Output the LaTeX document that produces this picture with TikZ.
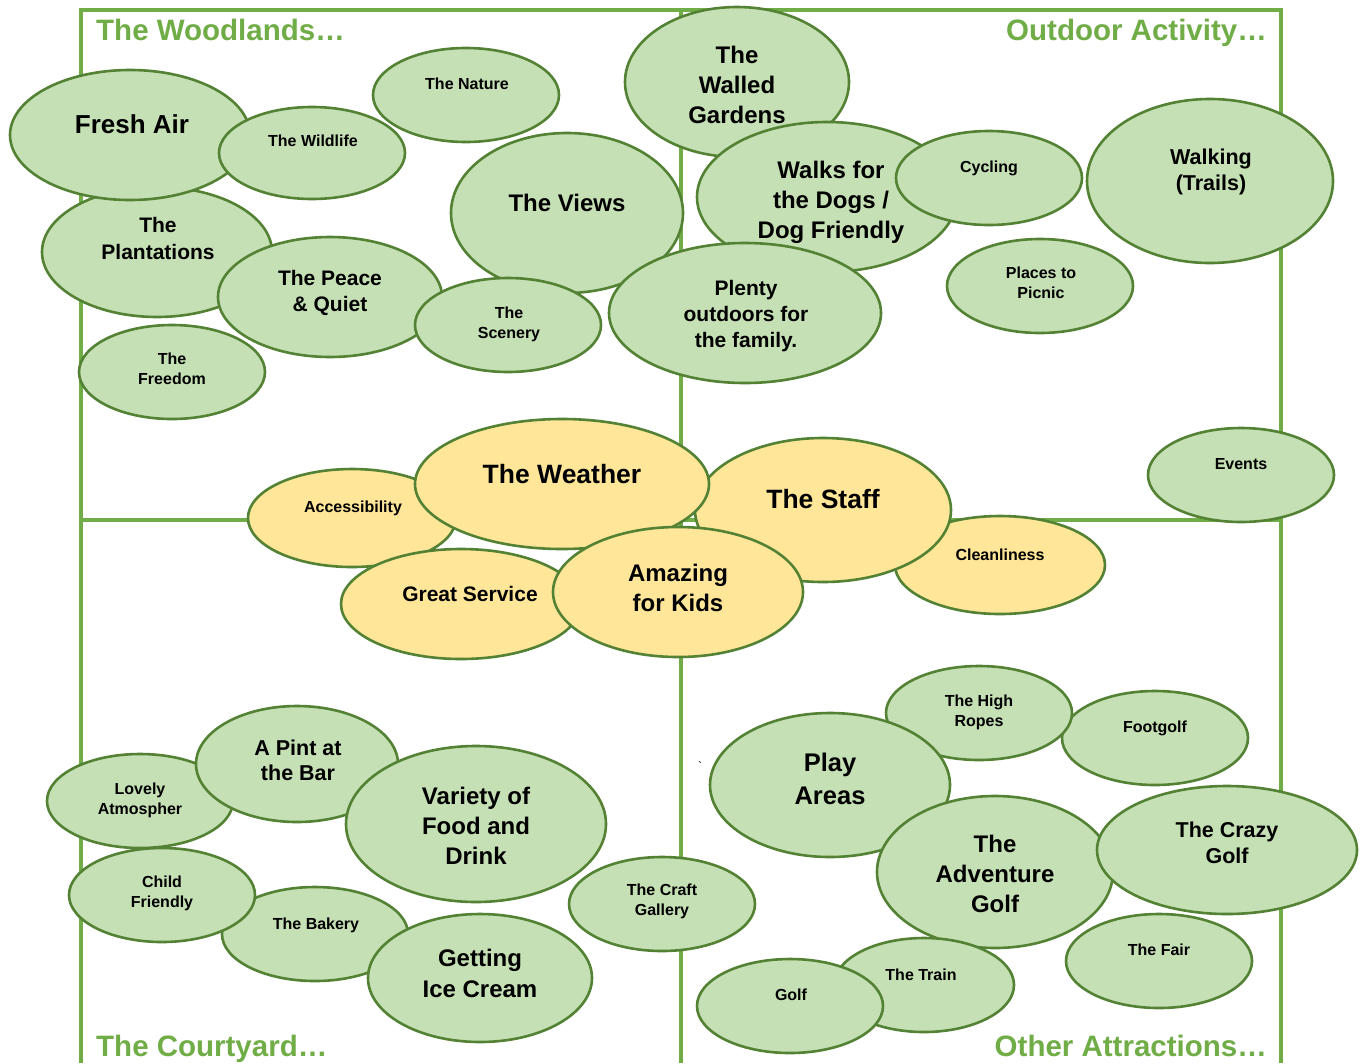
\documentclass[tikz,border=0pt]{standalone}
\usepackage{fontspec}
\setmainfont{Liberation Sans}
\usetikzlibrary{shapes.geometric}
\definecolor{gfill}{HTML}{C5E0B4}
\definecolor{yfill}{HTML}{FFE699}
\definecolor{edgec}{HTML}{548235}
\definecolor{framec}{HTML}{70AD47}
\newcommand\fs[2]{\fontsize{#1}{#2}\selectfont}
\tikzset{
  bub/.style={ellipse, draw=edgec, line width=2.6pt, inner sep=0pt},
  gb/.style={bub, fill=gfill},
  yb/.style={bub, fill=yfill},
  lbl/.style={align=center, inner sep=0pt, text=black},
  frameline/.style={draw=framec, line width=3.6pt},
  ttl/.style={inner sep=0pt, text=framec, font=\bfseries\fs{29.5}{32}}
}
% #1 style, #2 name, #3 cx,cy, #4 rx, #5 ry, #6 tx,ty, #7 font, #8 text
\newcommand\bb[8]{%
  \node[#1, minimum width=2*#4pt, minimum height=2*#5pt] (#2) at (#3) {};
  \node[lbl, font=\bfseries#7] (#2-t) at (#6) {#8};
}
\begin{document}
\begin{tikzpicture}[x=1pt,y=-1pt]
\useasboundingbox[fill=white] (0,0) rectangle (1364,1063);
% frame
\coordinate (tl) at (81,10);
\coordinate (tr) at (1281,10);
\coordinate (bl) at (81,1063);
\coordinate (br) at (1281,1063);
\coordinate (tm) at (681,10);
\coordinate (bm) at (681,1063);
\coordinate (ml) at (81,520);
\coordinate (mr) at (1281,520);
\draw[frameline] (bl) -- (tl) -- (tr) -- (br);
\draw[frameline] (tm) -- (bm);
\draw[frameline] (ml) -- (mr);
% titles
\node[ttl, anchor=base west] (t1) at (96,40) {The Woodlands…};
\node[ttl, anchor=base east] (t2) at (1267,40) {Outdoor Activity…};
\node[ttl, anchor=base west] (t3) at (96,1056) {The Courtyard…};
\node[ttl, anchor=base east] (t4) at (1267,1056) {Other Attractions…};
% Woodlands
\bb{gb}{plant}{157,252}{115}{65}{158,238.5}{\fs{21}{27}}{The\\Plantations}
\bb{gb}{fresh}{130,135}{120}{65}{132,124}{\fs{26}{30}}{Fresh Air}
\bb{gb}{wild}{312,153}{93}{46}{313,141}{\fs{16}{20}}{The Wildlife}
\bb{gb}{nature}{466,95}{93}{47}{467,83.5}{\fs{16}{20}}{The Nature}
\bb{gb}{views}{567,213}{116}{80}{567,203}{\fs{24}{30}}{The Views}
\bb{gb}{peace}{330,297}{112}{60}{330,293}{\fs{21}{26}}{The Peace\\\& Quiet}
\bb{gb}{scen}{508,325}{93}{47}{509,324}{\fs{16}{20}}{The\\Scenery}
\bb{gb}{free}{172,372}{93}{47}{172,369}{\fs{16}{20}}{The\\Freedom}
% Outdoor activity
\bb{gb}{walled}{737,82}{112}{75}{737,85}{\fs{24}{30}}{The\\Walled\\Gardens}
\bb{gb}{walks}{827,197}{130}{75}{831,202}{\fs{24}{30}}{Walks for\\the Dogs /\\Dog Friendly}
\bb{gb}{cyc}{989,178}{93}{47}{989,168}{\fs{16}{20}}{Cycling}
\bb{gb}{walking}{1210,181}{123}{82}{1211,172}{\fs{21.5}{26}}{Walking\\(Trails)}
\bb{gb}{picnic}{1040,286}{93}{47}{1041,283}{\fs{16}{20}}{Places to\\Picnic}
\bb{gb}{plenty}{745,313}{136}{70}{746,316}{\fs{21}{26}}{Plenty\\outdoors for\\the family.}
\bb{gb}{events}{1241,475}{93}{47}{1241,464}{\fs{16}{20}}{Events}
% centre
\bb{yb}{access}{352,518}{104}{49}{353,508}{\fs{16}{20}}{Accessibility}
\bb{yb}{clean}{1000,565}{105}{49}{1000,555}{\fs{16}{20}}{Cleanliness}
\bb{yb}{staff}{823,510}{128}{72}{823,499}{\fs{26.5}{30}}{The Staff}
\bb{yb}{weather}{562,484}{147}{65}{562,474}{\fs{26.5}{30}}{The Weather}
\bb{yb}{great}{461,604}{120}{55}{470,594}{\fs{21}{26}}{Great Service}
\bb{yb}{kids}{678,592}{125}{65}{678,588}{\fs{24}{30}}{Amazing\\for Kids}
% Courtyard
\bb{gb}{lovely}{140,801}{93}{47}{140,800}{\fs{16}{20}}{Lovely\\Atmospher}
\bb{gb}{pint}{297,764}{101}{58}{298,760.5}{\fs{21.5}{25}}{A Pint at\\the Bar}
\bb{gb}{variety}{476,824}{130}{78}{476,826}{\fs{24}{30}}{Variety of\\Food and\\Drink}
\bb{gb}{bakery}{315,934}{93}{47}{316,925}{\fs{16}{20}}{The Bakery}
\bb{gb}{child}{162,895}{93}{47}{162,893}{\fs{16}{20}}{Child\\Friendly}
\bb{gb}{craft}{662,904}{93}{47}{662,901}{\fs{16}{20}}{The Craft\\Gallery}
\bb{gb}{ice}{480,978}{112}{64}{480,973.5}{\fs{24}{31}}{Getting\\Ice Cream}
% Other attractions
\bb{gb}{foot}{1155,738}{93}{47}{1155,728}{\fs{16}{20}}{Footgolf}
\bb{gb}{ropes}{979,713}{93}{47}{979,712}{\fs{16}{20}}{The High\\Ropes}
\bb{gb}{play}{830,785}{120}{72}{830,779}{\fs{25.5}{33}}{Play\\Areas}
\bb{gb}{adv}{995,872}{118}{76}{995,874}{\fs{24}{30}}{The\\Adventure\\Golf}
\bb{gb}{crazy}{1227,850}{130}{64}{1227,843}{\fs{21.5}{26}}{The Crazy\\Golf}
\bb{gb}{fair}{1159,961}{93}{47}{1159,950}{\fs{16}{20}}{The Fair}
\bb{gb}{train}{924,985}{90}{47}{921,975}{\fs{16}{20}}{The Train}
\bb{gb}{golf}{790,1006}{93}{47}{791,995}{\fs{16}{20}}{Golf}
\node[lbl, font=\fs{12}{12}] (tick) at (700,766) {\textasciigrave};
\end{tikzpicture}
\end{document}
